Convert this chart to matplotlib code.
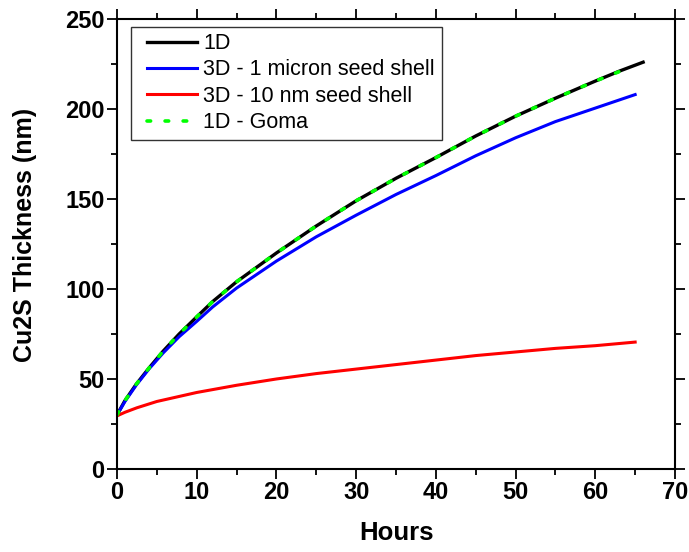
import numpy as np
import matplotlib.pyplot as plt
from matplotlib import font_manager
from matplotlib.lines import Line2D
from matplotlib.legend_handler import HandlerLine2D

# values
hours_1d = [0, 1, 2.4, 4, 5.8, 7.8, 10, 12, 15, 20, 25, 30, 35, 40, 45, 50, 55, 60, 63, 66]
thick_1d = [30, 38, 47, 56, 65.5, 75, 84.5, 93, 104, 120, 135, 149, 161.5, 173, 185, 196, 206, 215.5, 221, 226]

hours_3d1 = [0, 1, 2.4, 4, 5.8, 7.8, 10, 12, 15, 20, 25, 30, 35, 40, 45, 50, 55, 60, 65]
thick_3d1 = [30, 37.5, 46.5, 55.5, 64.5, 73.5, 82, 90, 100.5, 115.5, 129, 141, 152.5, 163, 174, 184, 193, 200.5, 208]

hours_3d10 = [0, 1, 2.5, 5, 7.5, 10, 15, 20, 25, 30, 35, 40, 45, 50, 55, 60, 65]
thick_3d10 = [29.5, 31.5, 34, 37.5, 40, 42.5, 46.5, 50, 53, 55.5, 58, 60.5, 63, 65, 67, 68.5, 70.5]

hours_goma = [0, 1, 2.4, 4, 5.8, 7.8, 10, 12, 15, 20, 25, 30, 35, 40, 45, 50, 55, 60, 64]
thick_goma = [30, 38, 47, 56, 65.5, 75, 84.5, 93, 104, 120, 135, 149, 161.5, 173, 185, 196, 206, 215.5, 222.5]

names = set(f.name for f in font_manager.fontManager.ttflist)
tick_font = 'Liberation Sans Narrow' if 'Liberation Sans Narrow' in names else 'Liberation Sans'

fig = plt.figure(figsize=(6.89, 5.52), dpi=100)
ax = fig.add_axes([0.1698, 0.1504, 0.8099, 0.8152])

ax.plot(hours_1d, thick_1d, color='black', lw=2.4, label='1D')
ax.plot(hours_3d1, thick_3d1, color='#0000ff', lw=2.2, label='3D - 1 micron seed shell')
ax.plot(hours_3d10, thick_3d10, color='#ff0000', lw=2.2, label='3D - 10 nm seed shell')
ax.plot(hours_goma, thick_goma, color='#00ff00', lw=2.6, ls=(0, (1, 4)),
        dash_capstyle='round', label='1D - Goma')

ax.set_xlim(0, 70)
ax.set_ylim(0, 250)
ax.set_xticks(np.arange(0, 71, 10))
ax.set_yticks(np.arange(0, 251, 50))
ax.set_xticks(np.arange(5, 70, 10), minor=True)
ax.set_yticks(np.arange(25, 250, 50), minor=True)

ax.tick_params(which='both', direction='out', top=True, right=True, width=1.3)
ax.tick_params(which='major', length=7, labelsize=17, pad=2)
ax.tick_params(which='minor', length=4)
for lab in ax.get_xticklabels() + ax.get_yticklabels():
    lab.set_fontfamily(tick_font)
    lab.set_fontweight('bold')
for s in ax.spines.values():
    s.set_linewidth(1.5)

ax.set_xlabel('Hours', fontsize=18.5, fontweight='bold', family=tick_font, labelpad=12)
ax.set_ylabel('Cu2S Thickness (nm)', fontsize=18, fontweight='bold', family='Liberation Sans')
ax.yaxis.set_label_coords(-0.143, 0.52)

# xpad pushes the sample lines in from the left edge of the box
leg = ax.legend(loc='upper left', bbox_to_anchor=(0.025, 0.983), frameon=True, fancybox=False,
                edgecolor='black', prop={'family': 'Liberation Sans', 'size': 15.5},
                handlelength=2.77, handletextpad=0.3, labelspacing=0.25, borderpad=0.3,
                borderaxespad=0, handler_map={Line2D: HandlerLine2D(xpad=0.44)})
leg.get_frame().set_linewidth(1.0)

fig.savefig('out.png', dpi=100)
